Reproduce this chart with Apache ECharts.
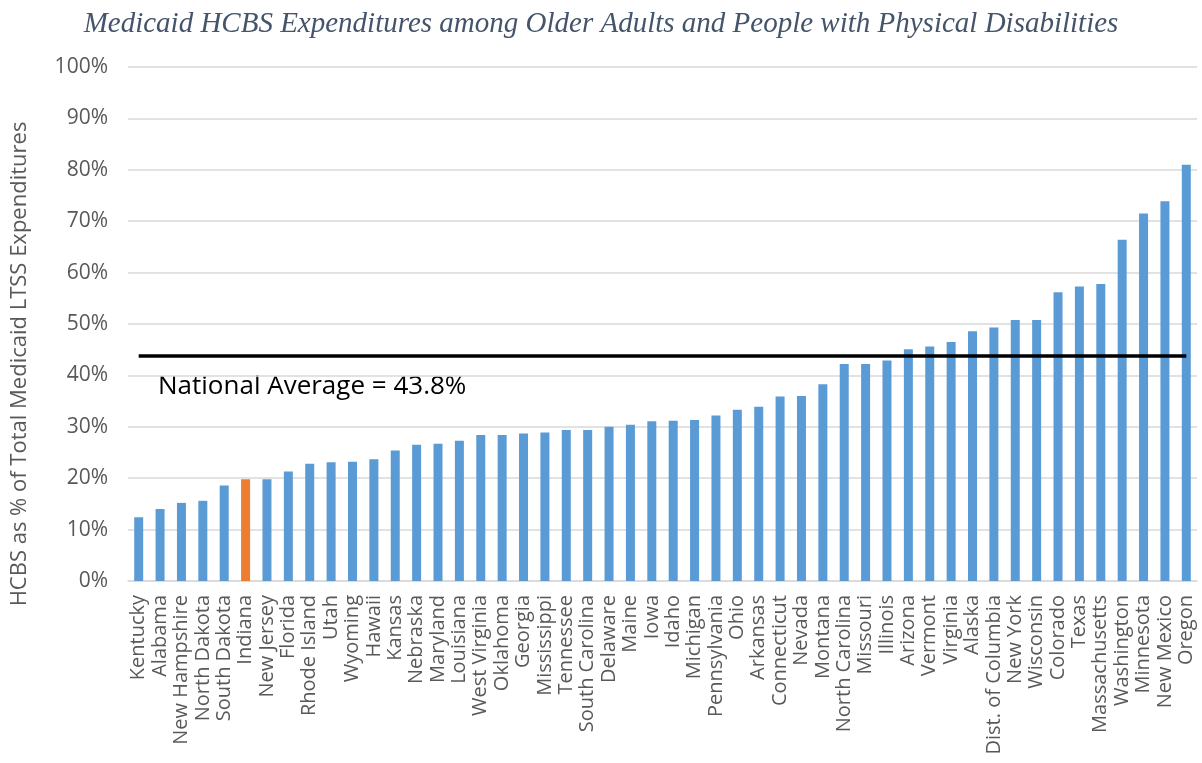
<!DOCTYPE html>
<html><head><meta charset="utf-8">
<script src="https://cdn.jsdelivr.net/npm/echarts@6/dist/echarts.min.js"></script>
<style>html,body{margin:0;padding:0;background:#fff}#c{width:1202px;height:763px}</style>
</head><body><div id="c"></div>
<script>
var states = ["Kentucky","Alabama","New Hampshire","North Dakota","South Dakota","Indiana","New Jersey","Florida","Rhode Island","Utah","Wyoming","Hawaii","Kansas","Nebraska","Maryland","Louisiana","West Virginia","Oklahoma","Georgia","Mississippi","Tennessee","South Carolina","Delaware","Maine","Iowa","Idaho","Michigan","Pennsylvania","Ohio","Arkansas","Connecticut","Nevada","Montana","North Carolina","Missouri","Illinois","Arizona","Vermont","Virginia","Alaska","Dist. of Columbia","New York","Wisconsin","Colorado","Texas","Massachusetts","Washington","Minnesota","New Mexico","Oregon"];
var hcbsShare = [12.4,14.0,15.2,15.6,18.6,19.8,19.8,21.3,22.8,23.1,23.2,23.7,25.4,26.5,26.7,27.3,28.4,28.4,28.7,28.9,29.4,29.4,30.0,30.4,31.1,31.2,31.3,32.2,33.3,33.9,35.9,36.0,38.3,42.2,42.2,42.9,45.1,45.6,46.5,48.6,49.3,50.8,50.8,56.2,57.3,57.8,66.4,71.5,73.9,81.0];
var highlightState = "Indiana";
var nationalAverage = 43.8;
var yTicks = [0,10,20,30,40,50,60,70,80,90,100];
var yAxisTitle = 'HCBS as % of Total Medicaid LTSS Expenditures';

var chart = echarts.init(document.getElementById('c'), null, {renderer:'canvas'});
var barData = states.map(function(s,i){
  return {value: hcbsShare[i], itemStyle:{color: s===highlightState ? '#ED7D31' : '#5B9BD5'}};
});
chart.setOption({
  animation:false,
  title:{
    text:'Medicaid HCBS Expenditures among Older Adults and People with Physical Disabilities',
    left:'center', top:5,
    textStyle:{fontFamily:'Liberation Serif', fontStyle:'italic', fontWeight:'normal', fontSize:29, color:'#44546A'}
  },
  grid:{left:128, right:5, top:67, bottom:182, containLabel:false},
  xAxis:{
    type:'category', data:states,
    axisTick:{show:false},
    axisLine:{lineStyle:{color:'#D9D9D9', width:1.5}},
    axisLabel:{rotate:90, interval:0, margin:14, fontFamily:'Open Sans', fontSize:20, color:'#595959'}
  },
  yAxis:{
    type:'value', min:yTicks[0], max:yTicks[yTicks.length-1], interval:10,
    axisLine:{show:false}, axisTick:{show:false},
    axisLabel:{formatter:'{value}%', margin:20, fontFamily:'Open Sans', fontSize:21, color:'#595959'},
    splitLine:{lineStyle:{color:'#D9D9D9', width:1.5}}
  },
  series:[{
    type:'bar', data:barData, barWidth:9,
    markLine:{
      silent:true, symbol:['none','none'],
      lineStyle:{color:'#000', width:3.5, type:'solid'},
      label:{show:false},
      data:[[{coord:[0,nationalAverage]},{coord:[states.length-1,nationalAverage]}]]
    }
  }],
  graphic:[{
    type:'text', x:158, y:387,
    style:{text:'National Average = ' + nationalAverage + '%', fontFamily:'Open Sans', fontSize:26, fill:'#000', textVerticalAlign:'middle'}
  },{
    type:'text', x:20, y:364, rotation:Math.PI/2,
    style:{text:yAxisTitle, fontFamily:'Open Sans', fontSize:22, fill:'#595959', textAlign:'center', textVerticalAlign:'middle'}
  }]
});
</script>
</body></html>
